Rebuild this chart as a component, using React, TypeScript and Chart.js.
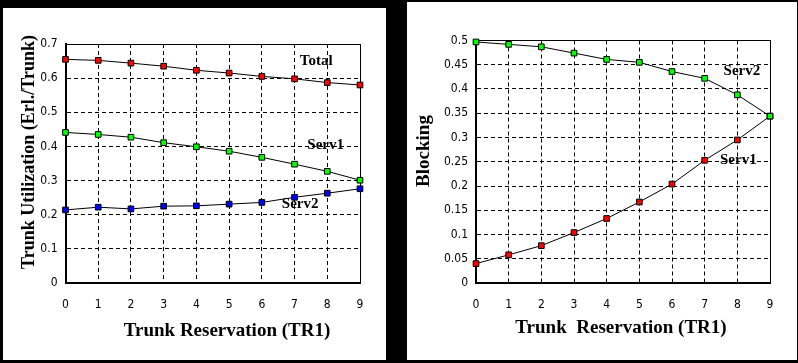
import React, { useEffect, useRef } from 'react';
import { Chart, registerables } from 'chart.js';

Chart.register(...registerables);

// ---------- data ----------
const trunkReservation = [0, 1, 2, 3, 4, 5, 6, 7, 8, 9];

const utilTotal = [0.655, 0.652, 0.644, 0.635, 0.623, 0.615, 0.605, 0.598, 0.587, 0.58];
const utilServ1 = [0.441, 0.435, 0.427, 0.411, 0.399, 0.386, 0.368, 0.348, 0.327, 0.301];
const utilServ2 = [0.214, 0.222, 0.217, 0.225, 0.226, 0.231, 0.236, 0.251, 0.263, 0.276];

const blockServ2 = [0.497, 0.492, 0.487, 0.474, 0.461, 0.455, 0.436, 0.422, 0.388, 0.344];
const blockServ1 = [0.04, 0.058, 0.077, 0.104, 0.133, 0.167, 0.204, 0.253, 0.295, 0.344];

const utilYTicks = [0, 0.1, 0.2, 0.3, 0.4, 0.5, 0.6, 0.7];
const blockYTicks = [0, 0.05, 0.1, 0.15, 0.2, 0.25, 0.3, 0.35, 0.4, 0.45, 0.5];

const utilLabels = [
  { text: 'Total', x: 7.66, y: 0.651 },
  { text: 'Serv1', x: 7.95, y: 0.403 },
  { text: 'Serv2', x: 7.17, y: 0.231 },
];
const blockLabels = [
  { text: 'Serv2', x: 8.14, y: 0.436 },
  { text: 'Serv1', x: 8.03, y: 0.2535 },
];

// ---------- styles ----------
const SERIF = "'Liberation Serif', 'Times New Roman', serif";
const TICK_FAMILY = "'Liberation Sans Narrow', 'DejaVu Sans Condensed', 'Liberation Sans', sans-serif";
const ANNOT_FONT = `bold 15px ${SERIF}`;

const textPlugin = {
  id: 'panelText',
  afterDatasetsDraw(chart: any, _args: any, opts: any) {
    const ctx = chart.ctx;
    const xs = chart.scales.x;
    const ys = chart.scales.y;
    ctx.save();
    ctx.fillStyle = '#000';
    ctx.textAlign = 'center';
    ctx.textBaseline = 'middle';
    for (const l of opts.labels || []) {
      ctx.font = ANNOT_FONT;
      ctx.fillText(l.text, xs.getPixelForValue(l.x), ys.getPixelForValue(l.y));
    }
    for (const t of opts.titles || []) {
      ctx.save();
      ctx.translate(t.x, t.y);
      if (t.rotate) ctx.rotate(-Math.PI / 2);
      ctx.font = t.font;
      ctx.fillText(t.text, 0, 0);
      ctx.restore();
    }
    ctx.restore();
  },
};

const framePlugin = {
  id: 'frame',
  beforeDatasetsDraw(chart: any) {
    const { ctx, chartArea } = chart;
    const al = (p: number) => Math.round(p - 0.5) + 0.5;
    ctx.save();
    ctx.strokeStyle = '#000';
    ctx.lineWidth = 1;
    ctx.setLineDash([]);
    ctx.beginPath();
    ctx.moveTo(chartArea.left, al(chartArea.top));
    ctx.lineTo(al(chartArea.right), al(chartArea.top));
    ctx.lineTo(al(chartArea.right), chartArea.bottom);
    ctx.stroke();
    ctx.restore();
  },
};

function series(label: string, values: number[], color: string) {
  return {
    label,
    data: trunkReservation.map((x, i) => ({ x, y: values[i] })),
    borderColor: '#000',
    borderWidth: 1,
    pointStyle: 'rect',
    pointRadius: 4,
    pointBorderColor: '#000',
    pointBorderWidth: 1,
    pointBackgroundColor: color,
    tension: 0,
    clip: false,
  };
}

const fmt = (v: any) => String(Math.round(Number(v) * 100) / 100);

type PanelProps = {
  left: number;
  top: number;
  width: number;
  height: number;
  yMax: number;
  yTicks: number[];
  datasets: any[];
  labels: any[];
  titles: any[];
  yWidth: number;
  xHeight: number;
  padTop: number;
  padRight: number;
};

function Panel(p: PanelProps) {
  const ref = useRef<HTMLCanvasElement | null>(null);
  useEffect(() => {
    if (!ref.current) return;
    const chart = new Chart(ref.current, {
      type: 'line',
      data: { datasets: p.datasets },
      options: {
        animation: false,
        responsive: false,
        devicePixelRatio: 1,
        layout: { padding: { left: 0, top: p.padTop, right: p.padRight, bottom: 0 } },
        plugins: {
          legend: { display: false },
          tooltip: { enabled: false },
          panelText: { labels: p.labels, titles: p.titles },
        } as any,
        scales: {
          x: {
            type: 'linear',
            min: 0,
            max: 9,
            afterBuildTicks: (s: any) => {
              s.ticks = trunkReservation.map((v) => ({ value: v }));
            },
            afterFit: (s: any) => {
              s.height = p.xHeight;
            },
            ticks: {
              color: '#000',
              padding: 15,
              font: { family: TICK_FAMILY, size: 12 },
              maxRotation: 0,
              callback: fmt,
            },
            grid: { color: '#000', lineWidth: 1, drawTicks: false },
            border: { color: '#000', width: 2, dash: [4, 3] },
          },
          y: {
            type: 'linear',
            min: 0,
            max: p.yMax,
            afterBuildTicks: (s: any) => {
              s.ticks = p.yTicks.map((v) => ({ value: v }));
            },
            afterFit: (s: any) => {
              s.width = p.yWidth;
            },
            ticks: {
              color: '#000',
              padding: 8,
              font: { family: TICK_FAMILY, size: 12 },
              callback: fmt,
            },
            grid: { color: '#000', lineWidth: 1, drawTicks: false },
            border: { color: '#000', width: 2, dash: [4, 3] },
          },
        },
      } as any,
      plugins: [framePlugin, textPlugin],
    });
    return () => chart.destroy();
  }, []);
  return (
    <div
      style={{
        position: 'absolute',
        left: p.left,
        top: p.top,
        width: p.width,
        height: p.height,
        background: '#fff',
      }}
    >
      <canvas ref={ref} width={p.width} height={p.height} style={{ width: p.width, height: p.height, display: 'block' }} />
    </div>
  );
}

export default function App() {
  const titleFont = `bold 19px ${SERIF}`;
  return (
    <div
      style={{
        position: 'fixed',
        left: 0,
        top: 0,
        width: 798,
        height: 363,
        background: '#000',
        overflow: 'hidden',
      }}
    >
      <Panel
        left={3}
        top={8}
        width={383}
        height={352}
        yMax={0.7}
        yTicks={utilYTicks}
        datasets={[
          series('Total', utilTotal, '#ff0000'),
          series('Serv1', utilServ1, '#00ff00'),
          series('Serv2', utilServ2, '#0000ff'),
        ]}
        labels={utilLabels}
        titles={[
          { text: 'Trunk Utilization (Erl./Trunk)', x: 26, y: 144, rotate: true, font: `bold 18px ${SERIF}` },
          { text: 'Trunk Reservation (TR1)', x: 224, y: 323, rotate: false, font: titleFont },
        ]}
        yWidth={62.5}
        xHeight={77}
        padTop={36}
        padRight={26}
      />
      <Panel
        left={407}
        top={2}
        width={390}
        height={358}
        yMax={0.5}
        yTicks={blockYTicks}
        datasets={[
          series('Serv2', blockServ2, '#00ff00'),
          series('Serv1', blockServ1, '#ff0000'),
        ]}
        labels={blockLabels}
        titles={[
          { text: 'Blocking', x: 17.5, y: 149, rotate: true, font: titleFont },
          { text: 'Trunk  Reservation (TR1)', x: 214, y: 326, rotate: false, font: titleFont },
        ]}
        yWidth={69}
        xHeight={77}
        padTop={38.5}
        padRight={27}
      />
    </div>
  );
}
